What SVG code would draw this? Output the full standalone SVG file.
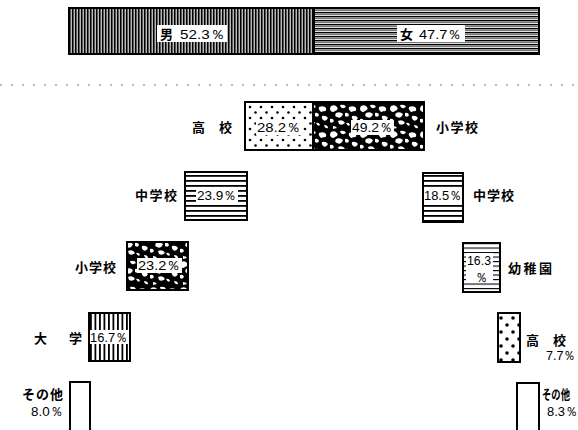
<svg xmlns="http://www.w3.org/2000/svg" width="578" height="430" viewBox="0 0 578 430">
<defs>
<pattern id="pMale" patternUnits="userSpaceOnUse" width="3" height="10">
<rect width="3" height="10" fill="#fff"/>
<rect x="0" width="1.7" height="10" fill="#000"/>
<rect x="1.7" width="0.8" height="10" fill="#777"/>
</pattern>
<pattern id="pFemale" patternUnits="userSpaceOnUse" width="12" height="4">
<rect width="12" height="4" fill="#fff"/>
<rect y="0" width="12" height="1.4" fill="#000"/>
<rect y="1.9" width="12" height="1.3" fill="#777"/>
</pattern>
<pattern id="pDots" patternUnits="userSpaceOnUse" width="11" height="11">
<rect width="11" height="11" fill="#fff"/>
<circle cx="2.5" cy="2.5" r="1.3" fill="#000"/>
<circle cx="8" cy="8" r="1.3" fill="#000"/>
</pattern>
<pattern id="pDotsBig" patternUnits="userSpaceOnUse" width="12" height="14">
<rect width="12" height="14" fill="#fff"/>
<circle cx="3" cy="3" r="1.8" fill="#000"/>
<circle cx="9" cy="10" r="1.8" fill="#000"/>
</pattern>
<pattern id="pCamo" patternUnits="userSpaceOnUse" width="30" height="26">
<rect width="30" height="26" fill="#000"/>
<path d="M1 2 q4 -2 6 1 q2 3 -2 4 q-2 2 -4 0 q-2 -2 0 -5z" fill="#fff"/>
<path d="M10 1 q5 -1 6 2 l-2 1 q-3 1 -4 -3z" fill="#fff"/>
<path d="M19 3 q5 -2 7 1 q1 4 -3 3 q-1 2 -3 0 q-2 -2 -1 -4z" fill="#fff"/>
<path d="M6 9 q4 -2 7 1 l-1 2 q-2 3 -5 1 q-3 -1 -1 -4z" fill="#fff"/>
<path d="M15 9 q3 -1 4 2 q-1 3 -4 1z" fill="#fff"/>
<path d="M22 12 q4 -1 6 2 q-2 4 -5 2 q-2 -2 -1 -4z" fill="#fff"/>
<path d="M0 15 q3 -1 4 2 q-2 3 -4 1z" fill="#fff"/>
<path d="M8 17 q5 -2 7 2 q-3 3 -6 1 l-1 -3z" fill="#fff"/>
<path d="M16 19 q3 -1 4 2 q-2 2 -4 -2z" fill="#fff"/>
<path d="M3 22 q3 0 4 2 l-4 1z" fill="#fff"/>
<path d="M24 21 q4 0 4 3 q-3 1 -4 -3z" fill="#fff"/>
</pattern>
<pattern id="pHoriz" patternUnits="userSpaceOnUse" width="10" height="5">
<rect width="10" height="5" fill="#fff"/>
<rect y="0" width="10" height="1.8" fill="#000"/>
</pattern>
<pattern id="pVert" patternUnits="userSpaceOnUse" width="4.5" height="10">
<rect width="4.5" height="10" fill="#fff"/>
<rect x="0" width="1.8" height="10" fill="#000"/>
</pattern>
<pattern id="pThin" patternUnits="userSpaceOnUse" width="10" height="4.5">
<rect width="10" height="4.5" fill="#fff"/>
<rect y="0" width="10" height="1.1" fill="#000"/>
</pattern>
</defs>
<style>
.bar{stroke:#000;stroke-width:2}
.lbl{font-family:"Noto Sans CJK JP","Noto Sans CJK SC",sans-serif;font-weight:bold;font-size:13px;fill:#000}
.num{font-family:"Liberation Sans Narrow","Liberation Sans","DejaVu Sans",sans-serif;font-size:13px;fill:#000}
.bg{fill:#fff}
.guide{stroke:#777;stroke-width:1;stroke-dasharray:2 9;fill:none}
</style>

<line class="guide" x1="0" y1="85" x2="578" y2="85"/>

<g id="gender">
<rect class="bar" x="69" y="8" width="245" height="46" fill="url(#pMale)"/>
<rect class="bar" x="314" y="8" width="225" height="46" fill="url(#pFemale)"/>
<rect class="bg" x="157" y="25" width="70" height="17"/>
<text class="lbl" x="160" y="39" font-size="12">男</text>
<text class="num" x="180" y="39" textLength="45" lengthAdjust="spacingAndGlyphs">52.3％</text>
<rect class="bg" x="397" y="25" width="68" height="17"/>
<text class="lbl" x="400" y="39" font-size="12">女</text>
<text class="num" x="419" y="39" textLength="43" lengthAdjust="spacingAndGlyphs">47.7％</text>
</g>

<g id="top-level">
<rect class="bar" x="245" y="102" width="68" height="48" fill="url(#pDots)"/>
<rect class="bar" x="313" y="102" width="111" height="48" fill="url(#pCamo)"/>
<rect class="bg" x="256" y="120" width="46" height="15"/>
<text class="num" x="257" y="132" textLength="44" lengthAdjust="spacingAndGlyphs">28.2％</text>
<rect class="bg" x="351" y="120" width="43" height="15"/>
<text class="num" x="352" y="132" textLength="41" lengthAdjust="spacingAndGlyphs">49.2％</text>
<text class="lbl" x="192" y="132">高</text>
<text class="lbl" x="219" y="132">校</text>
<text class="lbl" x="436" y="132" textLength="42">小学校</text>
</g>

<g id="m-chu">
<rect class="bar" x="185" y="172" width="62" height="48" fill="url(#pHoriz)"/>
<rect class="bg" x="196" y="188" width="42" height="15"/>
<text class="num" x="197" y="200" textLength="40" lengthAdjust="spacingAndGlyphs">23.9％</text>
<text class="lbl" x="135" y="200" textLength="42">中学校</text>
</g>

<g id="m-sho">
<rect class="bar" x="127" y="242" width="61" height="48" fill="url(#pCamo)"/>
<rect class="bg" x="137" y="258" width="45" height="15"/>
<text class="num" x="138" y="270" textLength="43" lengthAdjust="spacingAndGlyphs">23.2％</text>
<text class="lbl" x="75" y="272" textLength="41">小学校</text>
</g>

<g id="m-dai">
<rect class="bar" x="89" y="313" width="41" height="48" fill="url(#pVert)"/>
<rect class="bg" x="90" y="330" width="39" height="14"/>
<text class="num" x="90" y="342" textLength="38" lengthAdjust="spacingAndGlyphs">16.7％</text>
<text class="lbl" x="34" y="343">大</text>
<text class="lbl" x="69" y="343">学</text>
</g>

<g id="m-other">
<rect class="bar" x="70" y="382" width="20" height="52" fill="#fff"/>
<text class="lbl" x="22" y="399" font-size="12" textLength="41">その他</text>
<text class="num" x="31" y="416" font-size="11" textLength="32" lengthAdjust="spacingAndGlyphs">8.0％</text>
</g>

<g id="f-chu">
<rect class="bar" x="423" y="173" width="40" height="49" fill="url(#pHoriz)"/>
<rect class="bg" x="424" y="188" width="38" height="15"/>
<text class="num" x="424" y="200" textLength="38" lengthAdjust="spacingAndGlyphs">18.5％</text>
<text class="lbl" x="473" y="200" textLength="41">中学校</text>
</g>

<g id="f-yo">
<rect class="bar" x="463" y="243" width="37" height="49" fill="url(#pThin)"/>
<rect class="bg" x="466" y="253" width="27" height="30"/>
<text class="num" x="467" y="265" textLength="24" lengthAdjust="spacingAndGlyphs">16.3</text>
<text class="num" x="475" y="282">％</text>
<text class="lbl" x="508" y="273" textLength="44">幼稚園</text>
</g>

<g id="f-ko">
<rect class="bar" x="498" y="313" width="22" height="49" fill="url(#pDotsBig)"/>
<text class="lbl" x="526" y="345">高</text>
<text class="lbl" x="553" y="345">校</text>
<text class="num" x="546" y="360" font-size="12" textLength="30" lengthAdjust="spacingAndGlyphs">7.7％</text>
</g>

<g id="f-other">
<rect class="bar" x="517" y="383" width="22" height="52" fill="#fff"/>
<text class="lbl" x="542" y="399" font-size="10" textLength="28" lengthAdjust="spacingAndGlyphs">その他</text>
<text class="num" x="547" y="416" font-size="10">8.3％</text>
</g>
</svg>
